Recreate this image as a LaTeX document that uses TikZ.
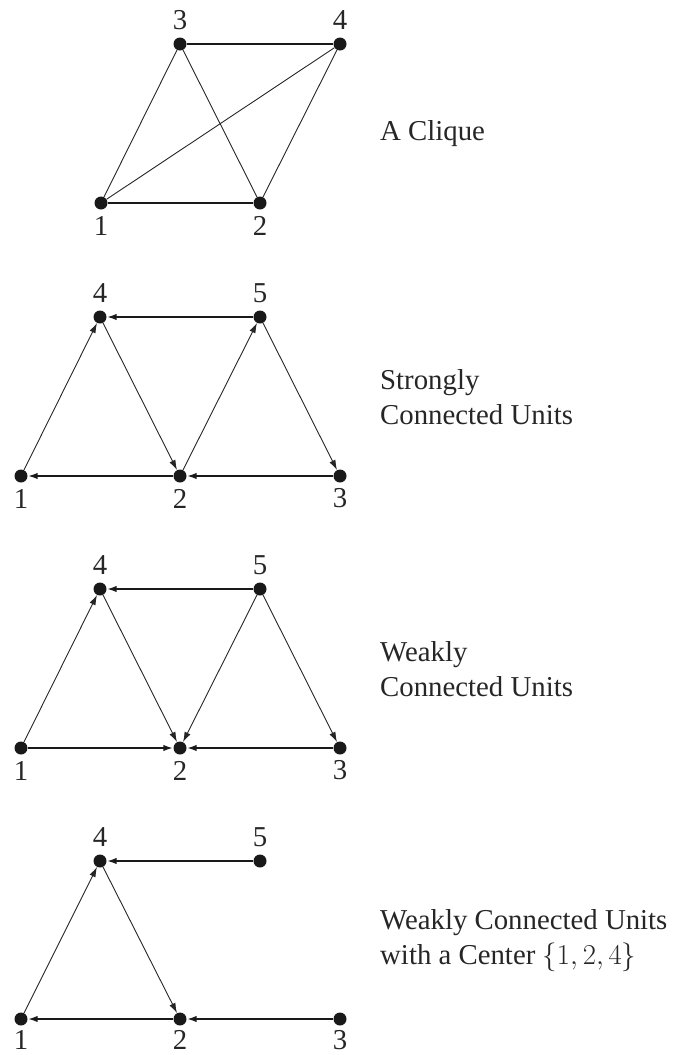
\RequirePackage{fix-cm}
\documentclass[tikz,border=0pt]{standalone}
\usepackage{fontspec}
\setmainfont{Liberation Serif}
\usetikzlibrary{arrows.meta,calc}
\begin{document}
\begin{tikzpicture}[x=1pt,y=-1pt,
  dot/.style={circle,fill=black!90,inner sep=0pt,minimum size=13pt},
  lbl/.style={inner sep=0pt,font=\fontsize{28.8}{35}\selectfont,text=black!85},
  captxt/.style={anchor=west,align=left,inner sep=0pt,font=\fontsize{28.8}{35}\selectfont,text=black!85},
  thinline/.style={line width=0.9pt,draw=black!85},
  thickline/.style={line width=2.2pt,draw=black!90},
  arr/.style={-{Latex[length=10pt,width=6.5pt]}}
]
\useasboundingbox (0,0) rectangle (674,1055);

% ---- A Clique ----
\node[dot] (a3) at (180,44) {};
\node[dot] (a4) at (340,44) {};
\node[dot] (a1) at (101,203) {};
\node[dot] (a2) at (260,203) {};
\node[lbl] (la3) at (180,20.5) {3};
\node[lbl] (la4) at (340,20.5) {4};
\node[lbl] (la1) at (101,225.5) {1};
\node[lbl] (la2) at (260,225.5) {2};
\draw[thickline] (a3) -- (a4);
\draw[thickline] (a1) -- (a2);
\draw[thinline] (a1) -- (a3);
\draw[thinline] (a1) -- (a4);
\draw[thinline] (a3) -- (a2);
\draw[thinline] (a2) -- (a4);
\node[captxt] (ta) at (380,134) {A Clique};

% ---- Strongly Connected Units ----
\node[dot] (b4) at (100,317) {};
\node[dot] (b5) at (260,317) {};
\node[dot] (b1) at (21,476) {};
\node[dot] (b2) at (180,476) {};
\node[dot] (b3) at (340,476) {};
\node[lbl] (lb4) at (100,293.5) {4};
\node[lbl] (lb5) at (260,293.5) {5};
\node[lbl] (lb1) at (21,498.5) {1};
\node[lbl] (lb2) at (180,498.5) {2};
\node[lbl] (lb3) at (340,498.5) {3};
\draw[thickline,arr] (b5) -- (b4);
\draw[thickline,arr] (b2) -- (b1);
\draw[thickline,arr] (b3) -- (b2);
\draw[thinline,arr] (b1) -- (b4);
\draw[thinline,arr] (b4) -- (b2);
\draw[thinline,arr] (b2) -- (b5);
\draw[thinline,arr] (b5) -- (b3);
\node[captxt] (tb) at (380,397) {Strongly\\Connected Units};

% ---- Weakly Connected Units ----
\node[dot] (c4) at (100,589) {};
\node[dot] (c5) at (260,589) {};
\node[dot] (c1) at (21,748) {};
\node[dot] (c2) at (180,748) {};
\node[dot] (c3) at (340,748) {};
\node[lbl] (lc4) at (100,565.5) {4};
\node[lbl] (lc5) at (260,565.5) {5};
\node[lbl] (lc1) at (21,770.5) {1};
\node[lbl] (lc2) at (180,770.5) {2};
\node[lbl] (lc3) at (340,770.5) {3};
\draw[thickline,arr] (c5) -- (c4);
\draw[thickline,arr] (c1) -- (c2);
\draw[thickline,arr] (c3) -- (c2);
\draw[thinline,arr] (c1) -- (c4);
\draw[thinline,arr] (c4) -- (c2);
\draw[thinline,arr] (c5) -- (c2);
\draw[thinline,arr] (c5) -- (c3);
\node[captxt] (tc) at (380,669) {Weakly\\Connected Units};

% ---- Weakly Connected Units with a Center ----
\node[dot] (d4) at (100,861) {};
\node[dot] (d5) at (260,861) {};
\node[dot] (d1) at (21,1019) {};
\node[dot] (d2) at (180,1019) {};
\node[dot] (d3) at (340,1019) {};
\node[lbl] (ld4) at (100,837.5) {4};
\node[lbl] (ld5) at (260,837.5) {5};
\node[lbl] (ld1) at (21,1040) {1};
\node[lbl] (ld2) at (180,1040) {2};
\node[lbl] (ld3) at (340,1040) {3};
\draw[thickline,arr] (d5) -- (d4);
\draw[thickline,arr] (d2) -- (d1);
\draw[thickline,arr] (d3) -- (d2);
\draw[thinline,arr] (d1) -- (d4);
\draw[thinline,arr] (d4) -- (d2);
\node[captxt] (td) at (380,941) {Weakly Connected Units\\with a Center $\{1,2,4\}$};
\end{tikzpicture}
\end{document}
